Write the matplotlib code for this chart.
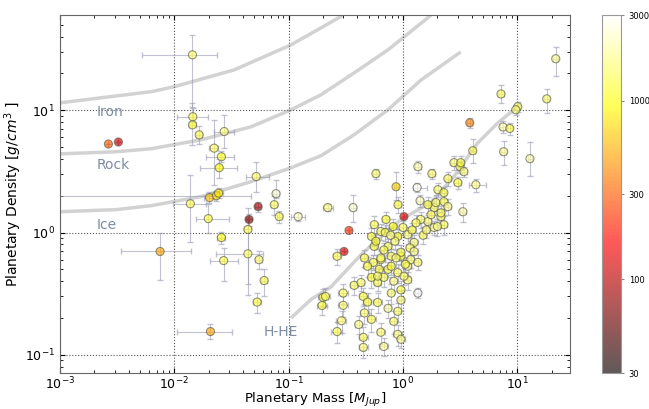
import matplotlib
matplotlib.use('Agg')
import matplotlib.pyplot as plt
from matplotlib.colors import LogNorm

# composition curves (mass in M_Jup, density in g/cm^3)
iron_mass = [0.001, 0.0031, 0.0063, 0.01, 0.0334, 0.105, 0.213, 0.3]
iron_dens = [11.5, 13.1, 14.2, 15.6, 21.4, 34.3, 49.9, 60]
rock_mass = [0.001, 0.0031, 0.0063, 0.0172, 0.047, 0.105, 0.192, 0.373, 0.74, 1.76]
rock_dens = [4.4, 4.58, 4.85, 5.74, 7.33, 10.1, 13.4, 20.2, 31.2, 60]
ice_mass = [0.001, 0.0031, 0.0063, 0.0172, 0.047, 0.105, 0.192, 0.373, 0.74, 1.44, 3.2]
ice_dens = [1.48, 1.54, 1.66, 1.97, 2.61, 3.39, 4.25, 6.3, 10.1, 17.7, 30]
hhe_mass = [0.105, 0.157, 0.235, 0.43, 0.96, 1.76, 2.79, 4.5, 6.76, 10.1]
hhe_dens = [0.20, 0.284, 0.36, 0.66, 1.28, 1.76, 2.87, 5.4, 7.9, 10.7]

# sparse planets (read individually, asymmetric errors)
sp_mass = [0.00265, 0.00324, 0.0144, 0.0145, 0.0144, 0.0165, 0.0273, 0.0223, 0.0258, 0.0247,
           0.052, 0.0203, 0.0233, 0.0244, 0.0138, 0.0198, 0.0258, 0.054, 0.045, 0.0748,
           0.0776, 0.0826, 0.121, 0.044, 0.027, 0.044, 0.055, 0.061, 0.053, 0.0075,
           0.0207, 0.22, 0.366, 0.337, 1.02, 0.305, 0.58, 0.87, 3.84, 21.7,
           7.2, 18.1, 10.1, 9.7, 7.5, 8.6, 7.6, 12.9, 4.08, 4.34, 1.35, 1.33]
sp_dens = [5.3, 5.5, 28.4, 8.85, 7.6, 6.3, 6.7, 4.9, 4.17, 3.39,
           2.87, 1.93, 2.0, 2.1, 1.72, 1.30, 0.91, 1.63, 1.28, 1.69,
           2.08, 1.35, 1.35, 1.06, 0.59, 0.67, 0.60, 0.405, 0.27, 0.70,
           0.155, 1.60, 1.60, 1.04, 1.35, 0.70, 3.03, 2.37, 7.9, 26.4,
           13.6, 12.4, 10.7, 10.1, 7.3, 7.1, 4.58, 4.02, 4.67, 2.46, 0.32, 2.33]
sp_temp = [300, 120, 1500, 1300, 1100, 1300, 1600, 1400, 1100, 900,
           1500, 600, 700, 800, 1300, 1200, 1000, 80, 70, 1400,
           2500, 1300, 2200, 1300, 1300, 1400, 1500, 1300, 1200, 500,
           500, 1600, 2500, 220, 130, 130, 1500, 700, 400, 1800,
           1400, 1500, 1400, 1600, 2000, 1300, 1800, 2000, 1300, 1700, 3000, 2800]
sp_mlo = [0, 0, 0.0092, 0.004, 0.001, 0.001, 0.005, 0.002, 0.007, 0.008,
          0.0095, 0.002, 0.0225, 0.002, 0.004, 0.0044, 0.002, 0.003, 0.003, 0.005,
          0.004, 0.004, 0.016, 0.003, 0.0065, 0.0207, 0.004, 0.004, 0.004, 0.0041,
          0.0102, 0.02, 0.02, 0, 0, 0, 0.03, 0.04, 0.2, 1.0,
          0.4, 0.9, 0.5, 0.5, 0.4, 0.4, 0.4, 0.6, 0.2, 0.54, 0.07, 0.1]
sp_mhi = [0, 0, 0.0092, 0.005, 0.001, 0.001, 0.0062, 0.002, 0.0072, 0.0103,
          0.0156, 0.002, 0.024, 0.002, 0.005, 0.0102, 0.002, 0.003, 0.003, 0.005,
          0.004, 0.004, 0.019, 0.003, 0.009, 0.016, 0.004, 0.004, 0.004, 0.0065,
          0.0113, 0.025, 0.02, 0, 0, 0, 0.03, 0.04, 0.2, 1.0,
          0.4, 0.9, 0.5, 0.5, 0.4, 0.4, 0.4, 0.6, 0.2, 0.96, 0.07, 0.3]
sp_dlo = [0, 0, 17.7, 0.8, 2.4, 1.0, 1.8, 2.44, 0.4, 0.6,
          0.71, 0.2, 0.2, 0.2, 0.89, 0.3, 0.1, 0.15, 0.15, 0.29,
          0.18, 0.15, 0.1, 0.75, 0.19, 0.29, 0.1, 0.105, 0.05, 0.29,
          0.02, 0.1, 0.37, 0, 0, 0, 0.3, 0.51, 0.8, 7.4,
          2.1, 2.9, 1.0, 1.0, 0.8, 0.8, 0.98, 1.12, 0.97, 0.3, 0.03, 0.2]
sp_dhi = [0, 0, 13.1, 1.5, 3.9, 1.2, 2.5, 3.5, 0.5, 0.6,
          0.93, 0.2, 0.2, 0.2, 1.25, 0.4, 0.1, 0.15, 0.15, 0.31,
          0.62, 0.15, 0.1, 0.54, 0.16, 0.61, 0.1, 0.095, 0.05, 0.3,
          0.025, 0.1, 0.44, 0, 0, 0, 0.3, 0.77, 0.8, 6.6,
          2.4, 2.6, 1.0, 1.0, 0.8, 0.8, 1.02, 1.48, 1.13, 0.3, 0.03, 0.2]

# hot jupiter cluster (symmetric errors)
cl_mass = [1.35, 1.79, 1.41, 2.47, 2.79, 3.15, 3.41, 3.34, 2.02, 2.28,
           3.02, 1.87, 2.15, 1.65, 1.87, 2.28, 0.905, 0.265, 0.2, 0.196,
           0.21, 0.30, 0.30, 0.374, 0.29, 0.265, 0.45, 0.46, 0.41, 0.45,
           0.45, 0.68, 0.64, 0.53, 0.90, 0.96, 0.83, 0.90, 0.74, 0.60,
           0.49, 0.96, 0.79, 0.60, 0.53, 0.68, 0.83, 0.96, 1.1, 0.62,
           0.74, 0.90, 1.1, 0.55, 0.64, 0.79, 0.96, 1.17, 1.35, 0.53,
           0.56, 0.74, 0.90, 1.1, 1.25, 0.96, 0.64, 0.79, 0.6, 1.02,
           1.43, 1.76, 2.15, 2.0, 1.65, 1.94, 2.28, 2.47, 0.71, 0.82,
           0.56, 0.64, 0.46, 0.49, 0.43, 0.70, 0.85, 1.0, 1.2, 0.78,
           1.15, 0.68, 0.87, 1.05, 1.25, 1.5, 1.6, 1.3, 0.58, 3.2]
cl_dens = [3.46, 3.03, 1.82, 2.76, 3.73, 3.46, 3.15, 1.48, 2.24, 2.12,
           2.56, 1.60, 1.35, 1.23, 1.10, 1.16, 1.69, 0.64, 0.295, 0.253,
           0.30, 0.32, 0.254, 0.37, 0.19, 0.155, 0.30, 0.22, 0.177, 0.139,
           0.115, 0.117, 0.153, 0.195, 0.147, 0.134, 0.188, 0.227, 0.24, 0.268,
           0.27, 0.28, 0.32, 0.39, 0.43, 0.43, 0.40, 0.34, 0.41, 0.50,
           0.50, 0.47, 0.53, 0.57, 0.60, 0.64, 0.64, 0.60, 0.57, 0.93,
           0.77, 0.77, 0.93, 0.96, 0.83, 0.69, 0.62, 0.53, 0.44, 0.44,
           1.28, 1.40, 1.45, 1.12, 1.69, 1.76, 1.79, 1.63, 1.28, 1.12,
           1.16, 1.02, 0.62, 0.53, 0.39, 1.0, 0.85, 1.1, 1.05, 0.95,
           0.75, 0.72, 0.62, 0.55, 0.70, 0.95, 1.05, 1.2, 0.85, 3.73]
cl_temp = [2000, 1500, 2200, 1400, 1500, 1300, 1600, 2000, 1500, 1300,
           1200, 1400, 1500, 1600, 1800, 1400, 1200, 1300, 1200, 1100,
           1400, 1300, 1500, 1400, 1500, 1300, 1200, 1500, 1700, 1400,
           1600, 1800, 1500, 1300, 1600, 1700, 1500, 1400, 1900, 1300,
           1200, 1600, 1500, 1300, 1100, 1400, 1700, 1200, 1500, 1200,
           1300, 1400, 1800, 1300, 1200, 1400, 1100, 1600, 1500, 1300,
           1200, 1400, 1100, 1500, 1600, 1300, 1500, 1200, 1400, 1500,
           1500, 1300, 1400, 1600, 1200, 1500, 1300, 1700, 1100, 1000,
           1300, 1400, 1300, 1200, 1500, 1300, 1500, 1400, 1200, 1600,
           1400, 1300, 1500, 1200, 1700, 1400, 1500, 1300, 1100, 1200]
cl_merr = [0.08, 0.1, 0.08, 0.15, 0.15, 0.2, 0.2, 0.2, 0.12, 0.12,
           0.2, 0.1, 0.12, 0.1, 0.1, 0.15, 0.05, 0.02, 0.02, 0.02,
           0.02, 0.03, 0.03, 0.03, 0.03, 0.03, 0.04, 0.04, 0.03, 0.04,
           0.04, 0.06, 0.05, 0.05, 0.08, 0.08, 0.06, 0.07, 0.05, 0.05,
           0.04, 0.06, 0.05, 0.04, 0.04, 0.05, 0.06, 0.07, 0.08, 0.05,
           0.05, 0.06, 0.08, 0.04, 0.05, 0.06, 0.06, 0.08, 0.1, 0.04,
           0.04, 0.05, 0.06, 0.08, 0.1, 0.06, 0.05, 0.05, 0.04, 0.07,
           0.1, 0.12, 0.15, 0.12, 0.1, 0.12, 0.15, 0.15, 0.05, 0.06,
           0.04, 0.05, 0.03, 0.04, 0.03, 0.05, 0.06, 0.07, 0.08, 0.05,
           0.08, 0.05, 0.06, 0.07, 0.1, 0.1, 0.12, 0.1, 0.04, 0.2]
cl_derr = [0.4, 0.3, 0.2, 0.35, 0.5, 0.4, 0.3, 0.25, 0.3, 0.25,
           0.3, 0.2, 0.2, 0.15, 0.15, 0.2, 0.25, 0.1, 0.05, 0.04,
           0.05, 0.06, 0.05, 0.06, 0.04, 0.03, 0.05, 0.04, 0.03, 0.03,
           0.02, 0.02, 0.03, 0.04, 0.03, 0.02, 0.04, 0.04, 0.04, 0.05,
           0.05, 0.05, 0.06, 0.06, 0.08, 0.07, 0.07, 0.06, 0.07, 0.08,
           0.07, 0.08, 0.09, 0.08, 0.1, 0.1, 0.1, 0.09, 0.08, 0.15,
           0.12, 0.12, 0.14, 0.15, 0.12, 0.1, 0.1, 0.08, 0.07, 0.07,
           0.2, 0.2, 0.2, 0.18, 0.25, 0.25, 0.3, 0.25, 0.2, 0.18,
           0.2, 0.15, 0.1, 0.1, 0.06, 0.15, 0.12, 0.15, 0.15, 0.14,
           0.1, 0.1, 0.1, 0.08, 0.1, 0.15, 0.15, 0.2, 0.12, 0.5]

fig = plt.figure(figsize=(6.49, 4.09), dpi=100)
ax = fig.add_axes([0.0925, 0.088, 0.786, 0.875])

for m, d in [(iron_mass, iron_dens), (rock_mass, rock_dens),
             (ice_mass, ice_dens), (hhe_mass, hhe_dens)]:
    ax.plot(m, d, color='#d2d2d2', lw=2.5, zorder=1, solid_capstyle='butt')

lab_col = '#7d8ca3'
ax.text(0.0021, 9.7, 'Iron', color=lab_col, fontsize=10, va='center')
ax.text(0.0021, 3.6, 'Rock', color=lab_col, fontsize=10, va='center')
ax.text(0.0021, 1.16, 'Ice', color=lab_col, fontsize=10, va='center')
ax.text(0.061, 0.155, 'H-HE', color=lab_col, fontsize=10, va='center')

norm = LogNorm(vmin=30, vmax=3000)

ax.errorbar(sp_mass, sp_dens, xerr=[sp_mlo, sp_mhi], yerr=[sp_dlo, sp_dhi], fmt='none',
            ecolor='#9a9cb4', elinewidth=0.8, capsize=2, alpha=0.6, zorder=2)
ax.errorbar(cl_mass, cl_dens, xerr=cl_merr, yerr=cl_derr, fmt='none',
            ecolor='#9a9cb4', elinewidth=0.8, capsize=2, alpha=0.6, zorder=2)

ax.scatter(cl_mass, cl_dens, c=cl_temp, cmap='hot', norm=norm, s=34,
           edgecolors='#5a5a4a', linewidths=0.8, alpha=0.65, zorder=3)
sc = ax.scatter(sp_mass, sp_dens, c=sp_temp, cmap='hot', norm=norm, s=34,
                edgecolors='#5a5a4a', linewidths=0.8, alpha=0.65, zorder=3)

ax.set_xscale('log')
ax.set_yscale('log')
ax.set_xlim(1e-3, 29)
ax.set_ylim(0.071, 60)
ax.grid(True, which='major', ls=':', color='#555555', lw=0.8)
ax.tick_params(which='both', direction='in', top=True, right=True, labelsize=9)
ax.tick_params(axis='x', pad=2)
for s in ax.spines.values():
    s.set_color('#666666')
ax.set_xlabel('Planetary Mass [$M_{Jup}$]', fontsize=9.5)
ax.set_ylabel('Planetary Density [$g/cm^3$ ]', fontsize=10)
ax.xaxis.set_label_coords(0.5, -0.05)
ax.yaxis.set_label_coords(-0.07, 0.5)

cax = fig.add_axes([0.928, 0.088, 0.029, 0.875])
cb = fig.colorbar(sc, cax=cax)
cb.set_ticks([30, 100, 300, 1000, 3000])
cb.set_ticklabels(['30', '100', '300', '1000', '3000'])
cb.ax.minorticks_off()
cb.ax.tick_params(labelsize=6, length=2, color='#888888')
cb.outline.set_edgecolor('#999999')
cb.set_label('Equilibrium Temperature [K]', fontsize=7, labelpad=3)

fig.savefig('out.png', dpi=100)
